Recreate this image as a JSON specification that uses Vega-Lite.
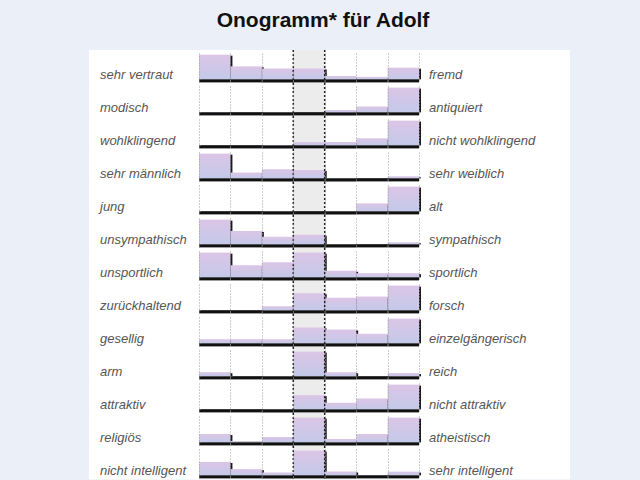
{
  "$schema": "https://vega.github.io/schema/vega-lite/v6.json",
  "description": "Onogramm fuer den Vornamen Adolf: 13 Gegensatzpaare, je 7 Stufen.",
  "background": "#ebf0f8",
  "padding": {"left": 88, "right": 72, "top": 0, "bottom": 0},
  "spacing": 0,
  "bounds": "flush",
  "config": {
    "view": {"stroke": "white", "strokeWidth": 1, "fill": "white"},
    "axisX": {
      "grid": true,
      "tickBand": "extent",
      "gridDash": [1, 2],
      "gridColor": "#9a9a9a",
      "labels": false,
      "ticks": false,
      "domain": false,
      "title": null
    }
  },
  "vconcat": [
    {
      "width": 480,
      "height": 50,
      "data": {"values": [{"t": "Onogramm* für Adolf"}]},
      "mark": {"type": "text", "font": "Liberation Sans", "fontSize": 21, "fontWeight": "bold", "color": "#111", "dx": -6, "dy": -4},
      "encoding": {"text": {"field": "t"}}
    },
    {
      "data": {
        "values": [
          {"n": 1, "l": "sehr vertraut", "r": "fremd", "c": 1, "v": 29.5},
          {"n": 1, "l": "sehr vertraut", "r": "fremd", "c": 2, "v": 15.5},
          {"n": 1, "l": "sehr vertraut", "r": "fremd", "c": 3, "v": 13},
          {"n": 1, "l": "sehr vertraut", "r": "fremd", "c": 4, "v": 13},
          {"n": 1, "l": "sehr vertraut", "r": "fremd", "c": 5, "v": 4},
          {"n": 1, "l": "sehr vertraut", "r": "fremd", "c": 6, "v": 3},
          {"n": 1, "l": "sehr vertraut", "r": "fremd", "c": 7, "v": 14},
          {"n": 2, "l": "modisch", "r": "antiquiert", "c": 1, "v": 0.5},
          {"n": 2, "l": "modisch", "r": "antiquiert", "c": 2, "v": 0},
          {"n": 2, "l": "modisch", "r": "antiquiert", "c": 3, "v": 0},
          {"n": 2, "l": "modisch", "r": "antiquiert", "c": 4, "v": 0},
          {"n": 2, "l": "modisch", "r": "antiquiert", "c": 5, "v": 3},
          {"n": 2, "l": "modisch", "r": "antiquiert", "c": 6, "v": 7},
          {"n": 2, "l": "modisch", "r": "antiquiert", "c": 7, "v": 29.5},
          {"n": 3, "l": "wohlklingend", "r": "nicht wohlklingend", "c": 1, "v": 0},
          {"n": 3, "l": "wohlklingend", "r": "nicht wohlklingend", "c": 2, "v": 0},
          {"n": 3, "l": "wohlklingend", "r": "nicht wohlklingend", "c": 3, "v": 0.5},
          {"n": 3, "l": "wohlklingend", "r": "nicht wohlklingend", "c": 4, "v": 4},
          {"n": 3, "l": "wohlklingend", "r": "nicht wohlklingend", "c": 5, "v": 4},
          {"n": 3, "l": "wohlklingend", "r": "nicht wohlklingend", "c": 6, "v": 8.5},
          {"n": 3, "l": "wohlklingend", "r": "nicht wohlklingend", "c": 7, "v": 29.5},
          {"n": 4, "l": "sehr männlich", "r": "sehr weiblich", "c": 1, "v": 29.5},
          {"n": 4, "l": "sehr männlich", "r": "sehr weiblich", "c": 2, "v": 7},
          {"n": 4, "l": "sehr männlich", "r": "sehr weiblich", "c": 3, "v": 11},
          {"n": 4, "l": "sehr männlich", "r": "sehr weiblich", "c": 4, "v": 10},
          {"n": 4, "l": "sehr männlich", "r": "sehr weiblich", "c": 5, "v": 0},
          {"n": 4, "l": "sehr männlich", "r": "sehr weiblich", "c": 6, "v": 0},
          {"n": 4, "l": "sehr männlich", "r": "sehr weiblich", "c": 7, "v": 2.5},
          {"n": 5, "l": "jung", "r": "alt", "c": 1, "v": 0},
          {"n": 5, "l": "jung", "r": "alt", "c": 2, "v": 0},
          {"n": 5, "l": "jung", "r": "alt", "c": 3, "v": 0},
          {"n": 5, "l": "jung", "r": "alt", "c": 4, "v": 0},
          {"n": 5, "l": "jung", "r": "alt", "c": 5, "v": 0},
          {"n": 5, "l": "jung", "r": "alt", "c": 6, "v": 9.5},
          {"n": 5, "l": "jung", "r": "alt", "c": 7, "v": 29.5},
          {"n": 6, "l": "unsympathisch", "r": "sympathisch", "c": 1, "v": 29.5},
          {"n": 6, "l": "unsympathisch", "r": "sympathisch", "c": 2, "v": 16},
          {"n": 6, "l": "unsympathisch", "r": "sympathisch", "c": 3, "v": 9},
          {"n": 6, "l": "unsympathisch", "r": "sympathisch", "c": 4, "v": 11.5},
          {"n": 6, "l": "unsympathisch", "r": "sympathisch", "c": 5, "v": 0},
          {"n": 6, "l": "unsympathisch", "r": "sympathisch", "c": 6, "v": 0},
          {"n": 6, "l": "unsympathisch", "r": "sympathisch", "c": 7, "v": 2.5},
          {"n": 7, "l": "unsportlich", "r": "sportlich", "c": 1, "v": 29.5},
          {"n": 7, "l": "unsportlich", "r": "sportlich", "c": 2, "v": 14.5},
          {"n": 7, "l": "unsportlich", "r": "sportlich", "c": 3, "v": 18},
          {"n": 7, "l": "unsportlich", "r": "sportlich", "c": 4, "v": 29.5},
          {"n": 7, "l": "unsportlich", "r": "sportlich", "c": 5, "v": 8},
          {"n": 7, "l": "unsportlich", "r": "sportlich", "c": 6, "v": 5},
          {"n": 7, "l": "unsportlich", "r": "sportlich", "c": 7, "v": 5},
          {"n": 8, "l": "zurückhaltend", "r": "forsch", "c": 1, "v": 0},
          {"n": 8, "l": "zurückhaltend", "r": "forsch", "c": 2, "v": 0},
          {"n": 8, "l": "zurückhaltend", "r": "forsch", "c": 3, "v": 5},
          {"n": 8, "l": "zurückhaltend", "r": "forsch", "c": 4, "v": 20.5},
          {"n": 8, "l": "zurückhaltend", "r": "forsch", "c": 5, "v": 15},
          {"n": 8, "l": "zurückhaltend", "r": "forsch", "c": 6, "v": 16.5},
          {"n": 8, "l": "zurückhaltend", "r": "forsch", "c": 7, "v": 29.5},
          {"n": 9, "l": "gesellig", "r": "einzelgängerisch", "c": 1, "v": 5},
          {"n": 9, "l": "gesellig", "r": "einzelgängerisch", "c": 2, "v": 5},
          {"n": 9, "l": "gesellig", "r": "einzelgängerisch", "c": 3, "v": 5},
          {"n": 9, "l": "gesellig", "r": "einzelgängerisch", "c": 4, "v": 19},
          {"n": 9, "l": "gesellig", "r": "einzelgängerisch", "c": 5, "v": 16.5},
          {"n": 9, "l": "gesellig", "r": "einzelgängerisch", "c": 6, "v": 11.5},
          {"n": 9, "l": "gesellig", "r": "einzelgängerisch", "c": 7, "v": 29.5},
          {"n": 10, "l": "arm", "r": "reich", "c": 1, "v": 5},
          {"n": 10, "l": "arm", "r": "reich", "c": 2, "v": 0},
          {"n": 10, "l": "arm", "r": "reich", "c": 3, "v": 0},
          {"n": 10, "l": "arm", "r": "reich", "c": 4, "v": 29.5},
          {"n": 10, "l": "arm", "r": "reich", "c": 5, "v": 5},
          {"n": 10, "l": "arm", "r": "reich", "c": 6, "v": 0},
          {"n": 10, "l": "arm", "r": "reich", "c": 7, "v": 4},
          {"n": 11, "l": "attraktiv", "r": "nicht attraktiv", "c": 1, "v": 0},
          {"n": 11, "l": "attraktiv", "r": "nicht attraktiv", "c": 2, "v": 0},
          {"n": 11, "l": "attraktiv", "r": "nicht attraktiv", "c": 3, "v": 0},
          {"n": 11, "l": "attraktiv", "r": "nicht attraktiv", "c": 4, "v": 17},
          {"n": 11, "l": "attraktiv", "r": "nicht attraktiv", "c": 5, "v": 8},
          {"n": 11, "l": "attraktiv", "r": "nicht attraktiv", "c": 6, "v": 13},
          {"n": 11, "l": "attraktiv", "r": "nicht attraktiv", "c": 7, "v": 29.5},
          {"n": 12, "l": "religiös", "r": "atheistisch", "c": 1, "v": 10},
          {"n": 12, "l": "religiös", "r": "atheistisch", "c": 2, "v": 1.7},
          {"n": 12, "l": "religiös", "r": "atheistisch", "c": 3, "v": 6.5},
          {"n": 12, "l": "religiös", "r": "atheistisch", "c": 4, "v": 29.5},
          {"n": 12, "l": "religiös", "r": "atheistisch", "c": 5, "v": 4},
          {"n": 12, "l": "religiös", "r": "atheistisch", "c": 6, "v": 10},
          {"n": 12, "l": "religiös", "r": "atheistisch", "c": 7, "v": 29.5},
          {"n": 13, "l": "nicht intelligent", "r": "sehr intelligent", "c": 1, "v": 16},
          {"n": 13, "l": "nicht intelligent", "r": "sehr intelligent", "c": 2, "v": 7.5},
          {"n": 13, "l": "nicht intelligent", "r": "sehr intelligent", "c": 3, "v": 3.5},
          {"n": 13, "l": "nicht intelligent", "r": "sehr intelligent", "c": 4, "v": 29.5},
          {"n": 13, "l": "nicht intelligent", "r": "sehr intelligent", "c": 5, "v": 4.5},
          {"n": 13, "l": "nicht intelligent", "r": "sehr intelligent", "c": 6, "v": 0.5},
          {"n": 13, "l": "nicht intelligent", "r": "sehr intelligent", "c": 7, "v": 4.5}
        ]
      },
      "facet": {"row": {"field": "n", "type": "ordinal", "header": null}},
      "spacing": 0,
      "bounds": "flush",
      "resolve": {"axis": {"x": "independent"}},
      "spec": {
        "width": 480,
        "height": 32.4,
        "encoding": {
          "x": {
            "field": "c",
            "type": "ordinal",
            "scale": {"range": [110, 330], "paddingInner": 0, "paddingOuter": 0}
          }
        },
        "layer": [
          {
            "transform": [{"filter": "datum.c == 4"}],
            "mark": {"type": "rect", "fill": "#ececec"}
          },
          {
            "mark": {"type": "rect", "fill": "#1a1a1a", "xOffset": 2, "x2Offset": 2, "yOffset": 1},
            "encoding": {
              "y": {"field": "v", "type": "quantitative", "scale": {"domain": [0, 31], "range": [29.4, 0]}, "axis": null},
              "y2": {"datum": 0}
            }
          },
          {
            "mark": {
              "type": "rect",
              "fill": {
                "gradient": "linear",
                "x1": 0, "y1": 0, "x2": 0, "y2": 1,
                "stops": [
                  {"offset": 0, "color": "#dcc5e6"},
                  {"offset": 1, "color": "#c3c9e9"}
                ]
              }
            },
            "encoding": {
              "y": {"field": "v", "type": "quantitative"},
              "y2": {"datum": 0}
            }
          },
          {
            "mark": {"type": "rect", "fill": "#111", "y2Offset": 3},
            "encoding": {
              "y": {"datum": 0, "type": "quantitative"},
              "y2": {"datum": 0}
            }
          },
          {
            "transform": [{"filter": "datum.c == 4"}],
            "mark": {"type": "rule", "color": "#222", "strokeDash": [2, 2], "strokeWidth": 1.5},
            "encoding": {"x": {"field": "c", "type": "ordinal", "bandPosition": 0}}
          },
          {
            "transform": [{"filter": "datum.c == 4"}],
            "mark": {"type": "rule", "color": "#222", "strokeDash": [2, 2], "strokeWidth": 1.5},
            "encoding": {"x": {"field": "c", "type": "ordinal", "bandPosition": 1}}
          },
          {
            "transform": [{"filter": "datum.c == 1"}],
            "mark": {"type": "text", "align": "left", "baseline": "alphabetic", "dx": -99, "font": "Liberation Sans", "fontStyle": "italic", "fontSize": 13, "color": "#555"},
            "encoding": {
              "x": {"field": "c", "type": "ordinal", "bandPosition": 0},
              "y": {"datum": 0, "type": "quantitative"},
              "text": {"field": "l"}
            }
          },
          {
            "transform": [{"filter": "datum.c == 7"}],
            "mark": {"type": "text", "align": "left", "baseline": "alphabetic", "dx": 10, "font": "Liberation Sans", "fontStyle": "italic", "fontSize": 13, "color": "#555"},
            "encoding": {
              "x": {"field": "c", "type": "ordinal", "bandPosition": 1},
              "y": {"datum": 0, "type": "quantitative"},
              "text": {"field": "r"}
            }
          }
        ]
      }
    }
  ]
}
